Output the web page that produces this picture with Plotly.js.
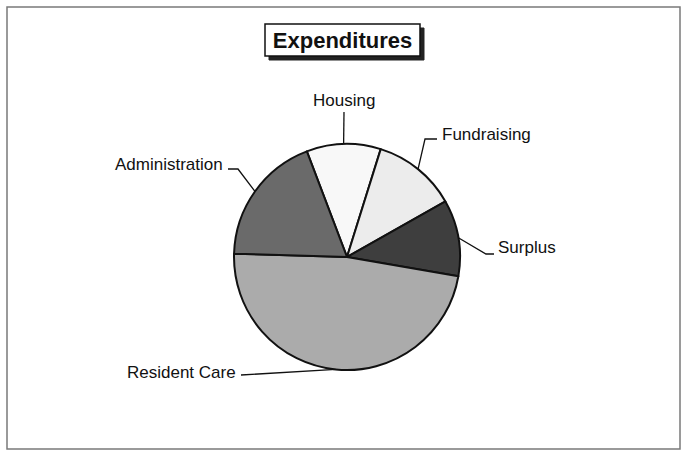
<!DOCTYPE html>
<html>
<head>
<meta charset="utf-8">
<script src="https://cdn.plot.ly/plotly-3.0.1.min.js"></script>
<style>html,body{margin:0;padding:0;background:#fff;}#chart{width:684px;height:451px;}</style>
</head>
<body>
<div id="chart"></div>
<script>
// ---- data ----
const categories = ["Housing", "Fundraising", "Surplus", "Resident Care", "Administration"];
const values = [10.6, 12.0, 10.9, 47.75, 18.75];
const colors = ["#f8f8f8", "#ececec", "#3e3e3e", "#ababab", "#6a6a6a"];
const chartTitle = "Expenditures";

// ---- layout geometry (pixels) ----
const W = 684, H = 451;
const cx = 347, cy = 257, R = 113;
const startRotation = -20.8;
const px = x => x / W;
const py = y => 1 - y / H;

// label placement (pixel positions of text and leader elbows)
const labelPlace = {
  "Housing":        {tx: 344, ty: 101, xa: "center", pts: [[344, 112]]},
  "Fundraising":    {tx: 440, ty: 134, xa: "left",   pts: [[425, 139], [437, 139]]},
  "Surplus":        {tx: 496, ty: 247, xa: "left",   pts: [[486, 254], [494, 254]]},
  "Resident Care":  {tx: 238, ty: 372, xa: "right",  pts: [[241, 375]]},
  "Administration": {tx: 225, ty: 164, xa: "right",  pts: [[238, 169], [228, 169]]}
};

const total = values.reduce((a, b) => a + b, 0);
const shapes = [];
const annotations = [];

// frame
shapes.push({type: "rect", xref: "paper", yref: "paper", x0: px(7), x1: px(680), y0: py(7), y1: py(449),
  line: {color: "#7a7a7a", width: 1.5}, fillcolor: "rgba(0,0,0,0)", layer: "below"});
// title box with shadow
shapes.push({type: "rect", xref: "paper", yref: "paper", x0: px(269), x1: px(424), y0: py(28), y1: py(60),
  line: {color: "#222", width: 1}, fillcolor: "#222", layer: "below"});
shapes.push({type: "rect", xref: "paper", yref: "paper", x0: px(265), x1: px(420), y0: py(24), y1: py(56),
  line: {color: "#111", width: 1.5}, fillcolor: "#fff", layer: "below"});

// leader lines and labels from slice mid-angles
let acc = 0;
categories.forEach((c, i) => {
  const mid = (startRotation + (acc + values[i] / 2) / total * 360) * Math.PI / 180;
  acc += values[i];
  const ex = cx + R * Math.sin(mid), ey = cy - R * Math.cos(mid);
  const lp = labelPlace[c];
  let path = "M" + px(ex) + "," + py(ey);
  lp.pts.forEach(p => { path += " L" + px(p[0]) + "," + py(p[1]); });
  shapes.push({type: "path", xref: "paper", yref: "paper", path: path, line: {color: "#111", width: 1.3}, layer: "above"});
  annotations.push({xref: "paper", yref: "paper", x: px(lp.tx), y: py(lp.ty), xanchor: lp.xa, yanchor: "middle",
    text: c, showarrow: false, font: {family: "Liberation Sans, Arial, sans-serif", size: 17, color: "#111"}});
});

const trace = {
  type: "pie",
  labels: categories,
  values: values,
  sort: false,
  direction: "clockwise",
  rotation: startRotation,
  textinfo: "none",
  marker: {colors: colors, line: {color: "#111", width: 2}},
  domain: {x: [px(cx - R), px(cx + R)], y: [py(cy + R), py(cy - R)]},
  showlegend: false
};

const layout = {
  width: W, height: H,
  margin: {l: 0, r: 0, t: 0, b: 0},
  paper_bgcolor: "#fff",
  title: {text: "<b>" + chartTitle + "</b>", x: 342.5 / W, xanchor: "center", y: 1 - 40 / H, yanchor: "middle",
    font: {family: "Liberation Sans, Arial, sans-serif", size: 22, color: "#111"}},
  shapes: shapes,
  annotations: annotations,
  showlegend: false
};

Plotly.newPlot("chart", [trace], layout, {displayModeBar: false, staticPlot: true});
</script>
</body>
</html>
